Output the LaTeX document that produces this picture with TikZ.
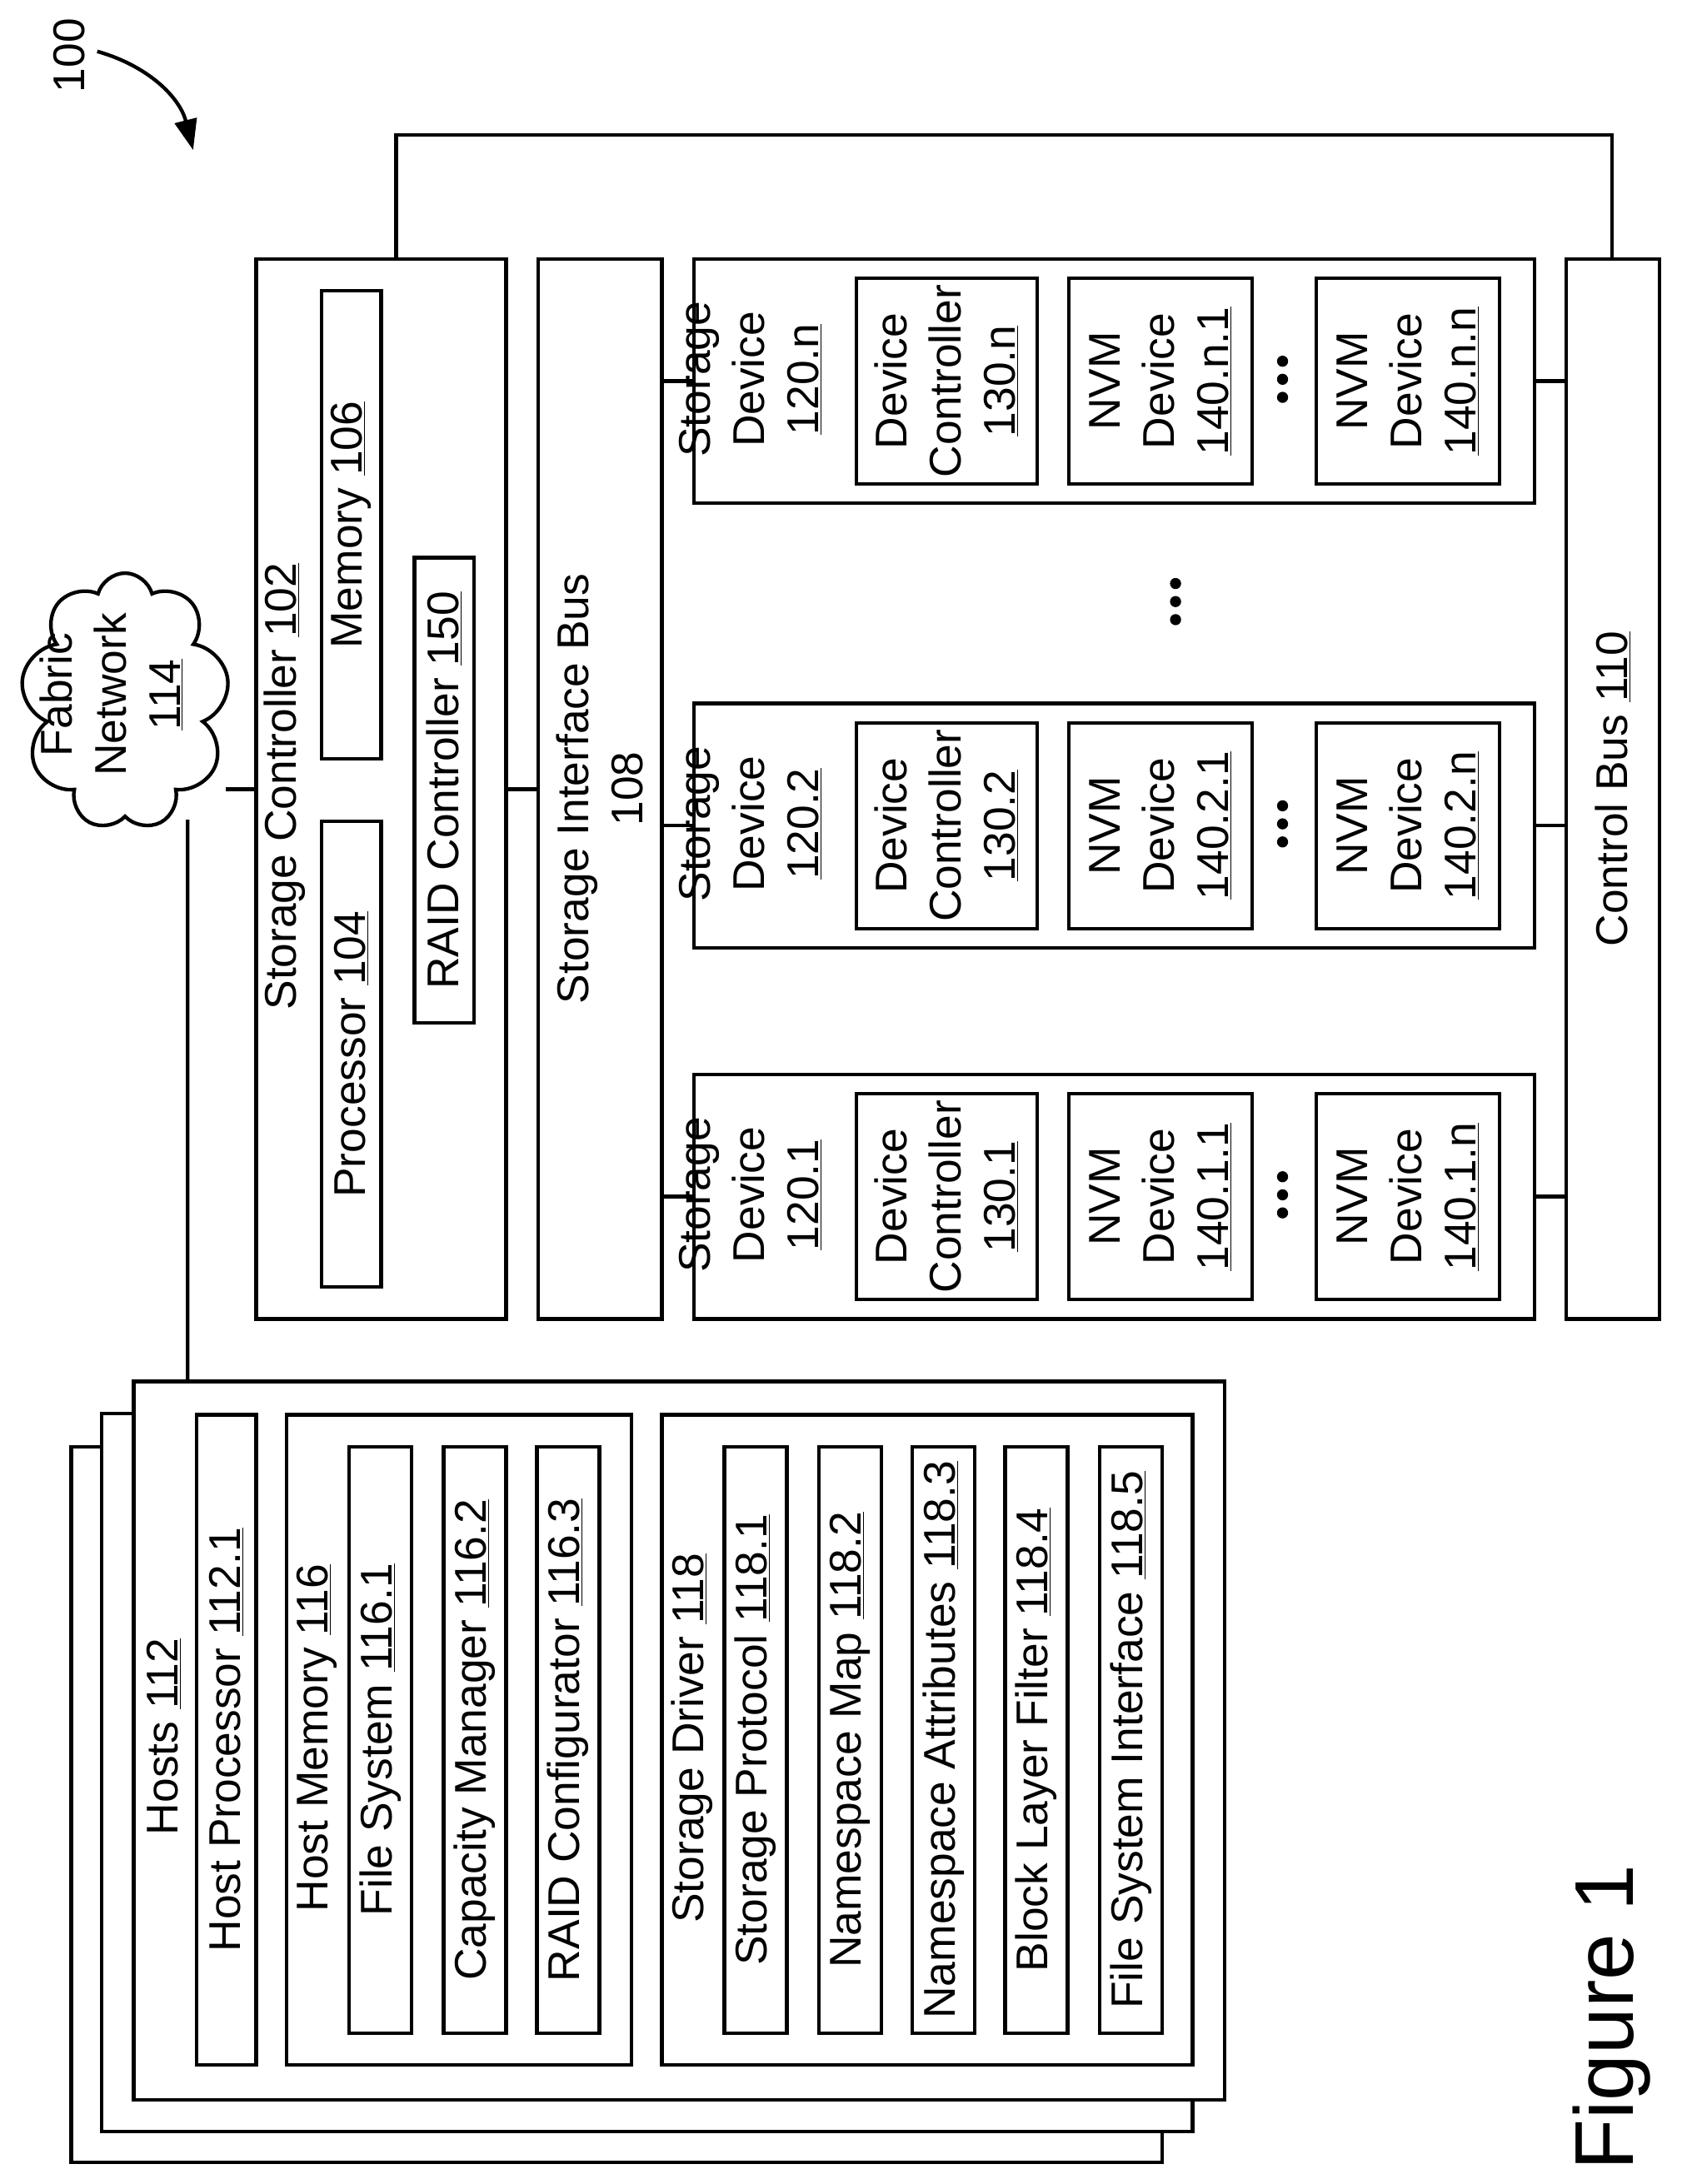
\documentclass[tikz,border=0pt]{standalone}
\usepackage{fontspec}
\setmainfont{Liberation Sans}
\usetikzlibrary{shapes.symbols,arrows.meta}
\begin{document}
\begin{tikzpicture}[x=1pt,y=-1pt,line width=2.6pt,
  box/.style={draw,fill=white},
  lbl/.style={rotate=90,font=\fontsize{32}{39}\selectfont,align=center,inner sep=0pt},
  dots/.style={circle,fill,inner sep=0pt,minimum size=8pt}]
\useasboundingbox (0,0) rectangle (1210,1572);
% 100
\node[lbl,font=\fontsize{32}{39}\selectfont] (n100) at (50,40) {100};
\coordinate (a1) at (70,37); \coordinate (a2) at (139,108);
\draw[-{Triangle[length=22pt,width=16pt]}] (a1) to[bend left=30] (a2);
% cloud
\node[cloud,draw,cloud puffs=9,aspect=0.8,minimum width=150pt,minimum height=185pt,inner sep=0pt] (cloud) at (90,505) {};
\node[lbl] at (80,500) {Fabric\\Network\\\underline{114}};
% storage controller
\node[box,minimum width=180pt,minimum height=763pt,anchor=north west,inner sep=0pt] (sc) at (183,185) {};
\node[lbl] at (205,566) {Storage Controller \underline{102}};
\node[box,minimum width=43pt,minimum height=335pt,anchor=north west,inner sep=0pt] (proc) at (230,590) {};
\node[lbl] at (proc) {Processor \underline{104}};
\node[box,minimum width=43pt,minimum height=337pt,anchor=north west,inner sep=0pt] (mem) at (230,208) {};
\node[lbl] at (mem) {Memory \underline{106}};
\node[box,minimum width=43pt,minimum height=335pt,anchor=north west,inner sep=0pt] (raid) at (297,400) {};
\node[lbl] at (raid) {RAID Controller \underline{150}};
% storage interface bus
\node[box,minimum width=89pt,minimum height=763pt,anchor=north west,inner sep=0pt] (sib) at (386,185) {};
\node[lbl] at (sib) {Storage Interface Bus\\108};
% control bus
\node[box,minimum width=67pt,minimum height=763pt,anchor=north west,inner sep=0pt] (cb) at (1126,185) {};
\node[lbl] at (cb) {Control Bus \underline{110}};
% connections
\coordinate (t1) at (285,97); \coordinate (t2) at (1160,97);
\draw (sc.north west -| t1) -- (t1) -- (t2) -- (cb.north west -| t2);
\draw (cloud.east |- 0,568) -- (sc.west |- 0,568);
\draw (sc.east |- 0,568) -- (sib.west |- 0,568);
% storage devices
\foreach \id/\top/\a/\b in {1/772/1.1/1.n, 2/505/2.1/2.n, n/185/n.1/n.n}{
  \node[box,minimum width=605pt,minimum height=176pt,anchor=north west,inner sep=0pt] (sd\id) at (498,\top) {};
  \node[lbl] at (540,\top+88) {Storage\\Device\\\underline{120.\id}};
  \node[box,minimum width=130pt,minimum height=148pt,anchor=north west,inner sep=0pt] (dc\id) at (615,\top+14) {};
  \node[lbl] at (dc\id) {Device\\Controller\\\underline{130.\id}};
  \node[box,minimum width=132pt,minimum height=148pt,anchor=north west,inner sep=0pt] (nvma\id) at (768,\top+14) {};
  \node[lbl] at (nvma\id) {NVM\\Device\\\underline{140.\a}};
  \node[box,minimum width=132pt,minimum height=148pt,anchor=north west,inner sep=0pt] (nvmb\id) at (946,\top+14) {};
  \node[lbl] at (nvmb\id) {NVM\\Device\\\underline{140.\b}};
  \node[dots] at (923,\top+75) {}; \node[dots] at (923,\top+88) {}; \node[dots] at (923,\top+101) {};
  \draw (sib.east |- sd\id.west) ++(0,0) -- (sd\id.west);
  \draw (sd\id.east) -- (cb.west |- sd\id.east);
}
\node[dots] at (846,420) {}; \node[dots] at (846,433) {}; \node[dots] at (846,446) {};
% hosts
\node[box,minimum width=785pt,minimum height=515pt,anchor=north west,inner sep=0pt] (h3) at (50,1040) {};
\node[box,minimum width=785pt,minimum height=517pt,anchor=north west,inner sep=0pt] (h2) at (72,1016) {};
\node[box,minimum width=785pt,minimum height=517pt,anchor=north west,inner sep=0pt] (h1) at (95,993) {};
\draw (cloud.south |- 0,590) ++(45,0) -- (h1.north west -| 135,0);
\node[lbl] at (118,1250) {Hosts \underline{112}};
\node[box,minimum width=43pt,minimum height=468pt,anchor=north west,inner sep=0pt] (hp) at (140,1017) {};
\node[lbl] at (hp) {Host Processor \underline{112.1}};
\node[box,minimum width=248pt,minimum height=468pt,anchor=north west,inner sep=0pt] (hm) at (205,1017) {};
\node[lbl] at (228,1251) {Host Memory \underline{116}};
\foreach \x/\t in {250/File System \underline{116.1},318/Capacity Manager \underline{116.2},385/RAID Configurator \underline{116.3}}{
  \node[box,minimum width=45pt,minimum height=422pt,anchor=north west,inner sep=0pt] (b\x) at (\x,1040) {};
  \node[lbl] at (b\x) {\t};
}
\node[box,minimum width=382pt,minimum height=468pt,anchor=north west,inner sep=0pt] (sdr) at (475,1017) {};
\node[lbl] at (498,1251) {Storage Driver \underline{118}};
\foreach \x/\t in {520/Storage Protocol \underline{118.1},588/Namespace Map \underline{118.2},655/Namespace Attributes \underline{118.3},722/Block Layer Filter \underline{118.4},790/File System Interface \underline{118.5}}{
  \node[box,minimum width=45pt,minimum height=422pt,anchor=north west,inner sep=0pt] (c\x) at (\x,1040) {};
  \node[lbl] at (c\x) {\t};
}
\node[lbl,font=\fontsize{60}{70}\selectfont] (fig) at (1160,1452) {Figure 1};
\end{tikzpicture}
\end{document}
